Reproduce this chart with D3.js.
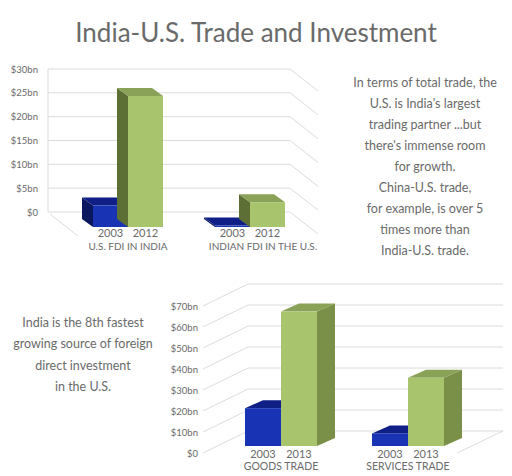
<!DOCTYPE html>
<html lang="en">
<head>
<meta charset="UTF-8">
<title>India-U.S. Trade and Investment</title>
<script src="https://d3js.org/d3.v7.min.js"></script>
<style>
  body { margin: 0; background: #fff; }
  text { font-family: "Century Gothic", Lato, "Open Sans", sans-serif; fill: #6a6a6a; }
</style>
</head>
<body>
<script>
const w = 512, h = 476;

// data
const fdiCategories = ["U.S. FDI IN INDIA", "INDIAN FDI IN THE U.S."];
const fdiYears = ["2003", "2012"];
const fdi2003 = [4.5, 0.3];
const fdi2012 = [27.5, 5.2];
const fdiTicks = [0, 5, 10, 15, 20, 25, 30];

const tradeCategories = ["GOODS TRADE", "SERVICES TRADE"];
const tradeYears = ["2003", "2013"];
const trade2003 = [18, 6];
const trade2013 = [64, 32.5];
const tradeTicks = [0, 10, 20, 30, 40, 50, 60, 70];

const noteRight = ["In terms of total trade, the", "U.S. is India's largest", "trading partner ...but",
  "there's immense room", "for growth.", "China-U.S. trade,", "for example, is over 5",
  "times more than", "India-U.S. trade."];
const noteLeft = ["India is the 8th fastest", "growing source of foreign", "direct investment", "in the U.S."];

const fmt = v => v === 0 ? "$0" : `$${v}bn`;
const col = {
  blue: { front: "#1833b3", top: "#0f1f86", side: "#0a165e" },
  green: { front: "#a8c46c", top: "#8aa257", side: "#5e6f36" }
};

const svg = d3.select("body").append("svg").attr("width", w).attr("height", h);

svg.append("text").attr("x", 256).attr("y", 42).attr("text-anchor", "middle")
  .style("font-size", "26px").text("India-U.S. Trade and Investment");

// draw a 3D-ish bar: front rect + top + side parallelograms
function bar3d(g, x0, x1, yTop, yBase, dx, dy, c) {
  const sideX = dx < 0 ? x0 : x1;
  g.append("path").attr("fill", c.side)
    .attr("d", `M${sideX},${yBase}L${sideX},${yTop}L${sideX + dx},${yTop + dy}L${sideX + dx},${yBase + dy}Z`);
  g.append("path").attr("fill", c.top)
    .attr("d", `M${x0},${yTop}L${x1},${yTop}L${x1 + dx},${yTop + dy}L${x0 + dx},${yTop + dy}Z`);
  g.append("rect").attr("x", x0).attr("y", yTop).attr("width", x1 - x0).attr("height", yBase - yTop)
    .attr("fill", c.front);
}

// ---- top chart
const y1 = d3.scaleLinear().domain([0, 30]).range([212, 69]);
const gx1 = d3.scalePoint().domain(fdiCategories).range([128, 250]);
const topChart = svg.append("g");
fdiTicks.forEach(t => {
  const y = y1(t);
  topChart.append("path").attr("fill", "none").attr("stroke", "#dcdcdc")
    .attr("d", `M48,${y}L290,${y}L318,${y + 22}`);
  topChart.append("text").attr("x", 38).attr("y", y + 3.5).attr("text-anchor", "end")
    .style("font-size", "9.5px").text(fmt(t));
});
topChart.append("path").attr("fill", "none").attr("stroke", "#dcdcdc").attr("d", `M50,${y1(0) + 2}L78,${y1(0) + 24}`);
topChart.append("path").attr("fill", "none").attr("stroke", "#dcdcdc").attr("d", `M48,${y1(0)}L48,${y1(30)}`);
fdiCategories.forEach((c, i) => {
  const cx = gx1(c), off = 15, bw = 35;
  bar3d(topChart, cx - bw, cx, y1(fdi2003[i]) + off, y1(0) + off, -11, -8, col.blue);
  bar3d(topChart, cx, cx + bw, y1(fdi2012[i]) + off, y1(0) + off, -11, -8, col.green);
  topChart.append("text").attr("x", cx - bw / 2).attr("y", 237).attr("text-anchor", "middle").style("font-size", "11px").text(fdiYears[0]);
  topChart.append("text").attr("x", cx + bw / 2).attr("y", 237).attr("text-anchor", "middle").style("font-size", "11px").text(fdiYears[1]);
  topChart.append("text").attr("x", cx + (i ? 13 : 0)).attr("y", 250).attr("text-anchor", "middle").style("font-size", "10px").text(c);
});

// ---- bottom chart
const y2 = d3.scaleLinear().domain([0, 70]).range([431, 284]);
const gx2 = d3.scalePoint().domain(tradeCategories).range([281, 408]);
const botChart = svg.append("g");
tradeTicks.forEach(t => {
  const y = y2(t);
  botChart.append("path").attr("fill", "none").attr("stroke", "#dcdcdc")
    .attr("d", `M203,${y + 22}L248,${y}L503,${y}`);
  botChart.append("text").attr("x", 198).attr("y", y + 25.5).attr("text-anchor", "end")
    .style("font-size", "9.5px").text(fmt(t));
});
botChart.append("path").attr("fill", "none").attr("stroke", "#dcdcdc").attr("d", `M457,${y2(0) + 22}L503,${y2(0)}`);
tradeCategories.forEach((c, i) => {
  const cx = gx2(c), off = 15, bw = 36;
  bar3d(botChart, cx - bw, cx, y2(trade2003[i]) + off, y2(0) + off, 18, -8, col.blue);
  bar3d(botChart, cx, cx + bw, y2(trade2013[i]) + off, y2(0) + off, 18, -8,
    { front: col.green.front, top: col.green.top, side: "#7a8f48" });
  botChart.append("text").attr("x", cx - bw / 2).attr("y", 458).attr("text-anchor", "middle").style("font-size", "11px").text(tradeYears[0]);
  botChart.append("text").attr("x", cx + bw / 2).attr("y", 458).attr("text-anchor", "middle").style("font-size", "11px").text(tradeYears[1]);
  botChart.append("text").attr("x", cx).attr("y", 470).attr("text-anchor", "middle").style("font-size", "10.5px").text(c);
});

// ---- notes
svg.append("g").selectAll("text").data(noteRight).join("text")
  .attr("x", 425).attr("y", (d, i) => 87 + i * 21).attr("text-anchor", "middle")
  .style("font-size", "12.5px").text(d => d);
svg.append("g").selectAll("text").data(noteLeft).join("text")
  .attr("x", 83).attr("y", (d, i) => 327 + i * 21.3).attr("text-anchor", "middle")
  .style("font-size", "12.5px").text(d => d);
</script>
</body>
</html>
